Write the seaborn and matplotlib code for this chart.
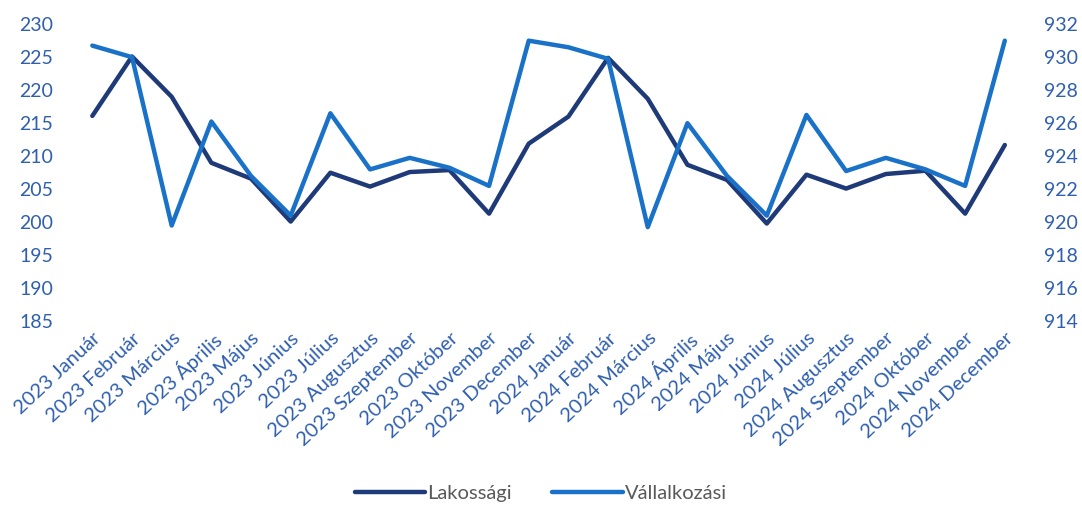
import matplotlib
matplotlib.use("Agg")
import matplotlib.pyplot as plt
import seaborn as sns
import pandas as pd

honapok = ["Január", "Február", "Március", "Április", "Május", "Június", "Július",
           "Augusztus", "Szeptember", "Október", "November", "December"]
idoszak = [f"{ev} {h}" for ev in (2023, 2024) for h in honapok]

# Lakossági (bal tengely)
lakossagi = [216.1, 225.1, 219.0, 209.0, 206.6, 200.1, 207.5, 205.4, 207.6, 207.9, 201.3, 211.9,
             216.0, 224.9, 218.7, 208.7, 206.4, 199.8, 207.2, 205.1, 207.3, 207.8, 201.3, 211.7]
# Vállalkozási (jobb tengely)
vallalkozasi = [930.7, 930.0, 919.8, 926.1, 922.8, 920.4, 926.6, 923.2, 923.9, 923.3, 922.2, 931.0,
                930.6, 929.9, 919.7, 926.0, 922.8, 920.4, 926.5, 923.1, 923.9, 923.2, 922.2, 931.0]

bal_ticks = list(range(185, 231, 5))
jobb_ticks = list(range(914, 933, 2))

df = pd.DataFrame({"Időszak": idoszak, "Lakossági": lakossagi, "Vállalkozási": vallalkozasi})

sns.set_theme(style="white")
plt.rcParams["font.family"] = ["Lato", "DejaVu Sans"]

sotetkek = "#1f3a78"
kek = "#1a72c8"
felirat = "#2f5fae"

fig = plt.figure(figsize=(10.82, 5.14), dpi=100)
ax = fig.add_axes([0.067, 0.375, 0.88, 0.578])
ax2 = ax.twinx()

sns.lineplot(data=df, x="Időszak", y="Lakossági", ax=ax, color=sotetkek, linewidth=3.2, label="Lakossági", legend=False)
sns.lineplot(data=df, x="Időszak", y="Vállalkozási", ax=ax2, color=kek, linewidth=3.2, label="Vállalkozási", legend=False)

ax.set_xlim(-0.5, len(idoszak) - 0.5)
ax.set_ylim(185, 230)
ax2.set_ylim(914, 932)
ax.set_yticks(bal_ticks)
ax2.set_yticks(jobb_ticks)

ax.set_xlabel("")
ax.set_ylabel("")
ax2.set_ylabel("")
ax.tick_params(axis="y", colors=felirat, labelsize=14, length=0, pad=14)
ax2.tick_params(axis="y", colors=felirat, labelsize=14, length=0, pad=14)
ax.tick_params(axis="x", colors=felirat, labelsize=14.5, length=0, pad=6)
for lbl in ax.get_xticklabels():
    lbl.set_rotation(43)
    lbl.set_ha("right")
    lbl.set_rotation_mode("anchor")

for a in (ax, ax2):
    for s in a.spines.values():
        s.set_visible(False)

h1, l1 = ax.get_legend_handles_labels()
h2, l2 = ax2.get_legend_handles_labels()
leg = fig.legend(h1 + h2, l1 + l2, loc="lower center", bbox_to_anchor=(0.5, -0.012), ncol=2,
                 frameon=False, fontsize=14.5, handlelength=3.5, handletextpad=0.1, columnspacing=2.0)
for t in leg.get_texts():
    t.set_color("#595959")

fig.savefig("out.png", dpi=100)
